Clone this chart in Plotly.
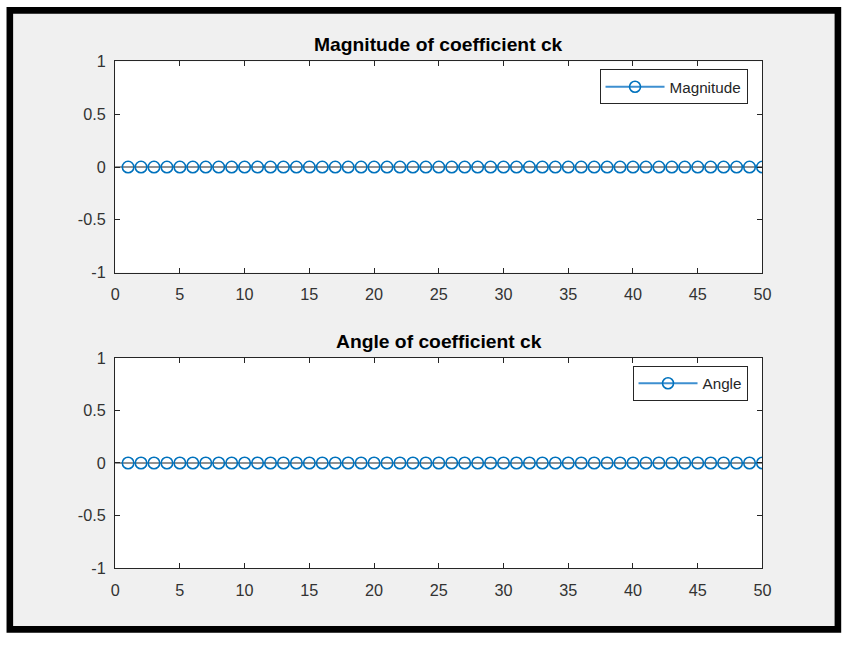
import plotly.graph_objects as go

W, H = 855, 647

k = list(range(1, 51))
magnitude = [0.0] * 50
angle = [0.0] * 50

x_ticks = [0, 5, 10, 15, 20, 25, 30, 35, 40, 45, 50]
y_ticks = [-1, -0.5, 0, 0.5, 1]
y_tick_labels = ["-1", "-0.5", "0", "0.5", "1"]

titles = ["Magnitude of coefficient ck", "Angle of coefficient ck"]
names = ["Magnitude", "Angle"]

BLUE = "#0072BD"
AX = "#262626"
FONT = "Liberation Sans, Arial, Helvetica, sans-serif"

# small calibration of the photographed page (target pixel -> page pixel)
AXS, BXS = 0.9877, 3.4
AYS, BYS = 0.9804, 6.16
S = 0.985


def px(x):
    return ((x - BXS) / AXS) / W


def py(y):
    return 1 - ((y - BYS) / AYS) / H


fig = go.Figure()

series = [magnitude, angle]
axes_ids = [("x", "y"), ("x2", "y2")]
legends = ["legend", "legend2"]

for i, (vals, (xa, ya)) in enumerate(zip(series, axes_ids)):
    sx, sy = [], []
    for kk, v in zip(k, vals):
        sx += [kk, kk, None]
        sy += [0, v, None]
    fig.add_trace(go.Scatter(x=sx, y=sy, mode="lines", line=dict(color=BLUE, width=1.5),
                             showlegend=False, hoverinfo="skip", xaxis=xa, yaxis=ya))
    fig.add_trace(go.Scatter(x=k, y=vals, mode="markers",
                             marker=dict(symbol="circle-open", size=11.5, color=BLUE,
                                         line=dict(width=1.6, color=BLUE)),
                             showlegend=False, xaxis=xa, yaxis=ya))
    fig.add_trace(go.Scatter(x=[None], y=[None], mode="lines+markers", name=names[i],
                             line=dict(color="#3d8fd0", width=2),
                             marker=dict(symbol="circle-open", size=11, color=BLUE,
                                         line=dict(width=1.6, color=BLUE)),
                             legend=legends[i], xaxis=xa, yaxis=ya))

# plot area pixel boxes (target pixels)
boxes = [(114, 764, 59, 272), (114, 764, 358, 570)]

shapes = [
    dict(type="rect", xref="paper", yref="paper", x0=px(8.25), x1=px(839.75), y0=py(631.75), y1=py(7.5),
         line=dict(color="black", width=6.6), fillcolor="#f0f0f0", layer="below"),
]
for (xa, ya) in axes_ids:
    xd = xa + " domain"
    yd = ya + " domain"
    shapes.append(dict(type="rect", xref=xd, yref=yd, x0=0, x1=1, y0=0, y1=1,
                       line=dict(width=0), fillcolor="white", layer="below"))
    shapes.append(dict(type="line", xref=xd, yref=ya, x0=0, x1=1, y0=0, y1=0,
                       line=dict(color=AX, width=1.2), layer="below"))

tickfont = dict(family=FONT, size=16 / S, color="#333333")
axis_common = dict(range=[0, 50], tickvals=x_ticks, ticks="inside", ticklen=5, tickwidth=1,
                   tickcolor=AX, showline=True, linecolor=AX, linewidth=1.2, mirror="ticks",
                   showgrid=False, zeroline=False, tickfont=tickfont, ticklabelstandoff=7,
                   fixedrange=True)
yaxis_common = dict(range=[-1, 1], tickvals=y_ticks, ticktext=y_tick_labels, ticks="inside", ticklen=5,
                    tickwidth=1, tickcolor=AX, showline=True, linecolor=AX, linewidth=1.2, mirror="ticks",
                    showgrid=False, zeroline=False, tickfont=tickfont, ticklabelstandoff=5,
                    fixedrange=True)

annotations = []
for i, (x0, x1, y0, y1) in enumerate(boxes):
    annotations.append(dict(text="<b>" + titles[i] + "</b>", xref="paper", yref="paper",
                            x=px((x0 + x1) / 2), y=py(y0 - 17), xanchor="center", yanchor="middle",
                            showarrow=False, font=dict(family=FONT, size=19 / S, color="black")))

legend_common = dict(xanchor="right", yanchor="top", bgcolor="white",
                     bordercolor=AX, borderwidth=1,
                     font=dict(family=FONT, size=15 / S, color="#262626"),
                     itemwidth=59, tracegroupgap=0)

fig.update_layout(
    autosize=True,
    margin=dict(l=0, r=0, t=0, b=0),
    paper_bgcolor="white",
    plot_bgcolor="white",
    showlegend=True,
    xaxis=dict(domain=[px(114), px(764)], anchor="y", **axis_common),
    yaxis=dict(domain=[py(272), py(59)], anchor="x", **yaxis_common),
    xaxis2=dict(domain=[px(114), px(764)], anchor="y2", **axis_common),
    yaxis2=dict(domain=[py(570), py(358)], anchor="x2", **yaxis_common),
    legend=dict(x=px(749), y=py(67), **legend_common),
    legend2=dict(x=px(749), y=py(366), **legend_common),
    shapes=shapes,
    annotations=annotations,
)

fig.write_html(
    "out.html",
    default_width="100%",
    default_height="100vh",
    config={"displayModeBar": False, "responsive": True},
    post_script=(
        "document.documentElement.style.margin='0';document.body.style.margin='0';"
        "document.body.style.padding='0';document.body.style.overflow='hidden';"
        "var gd=document.getElementById('{plot_id}');Plotly.Plots.resize(gd);"
    ),
)
